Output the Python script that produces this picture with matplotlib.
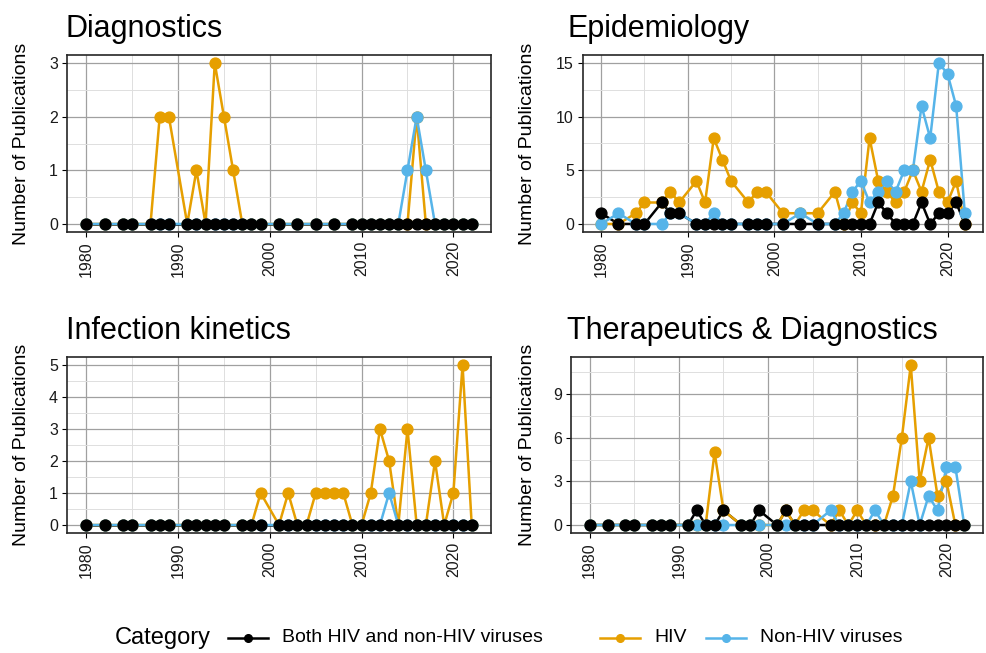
import matplotlib
matplotlib.use('Agg')
import matplotlib.pyplot as plt
from matplotlib.lines import Line2D
from matplotlib.ticker import MultipleLocator

plt.rcParams['font.family'] = ['Liberation Sans', 'DejaVu Sans']

# colours for the three categories
c_both = '#000000'
c_hiv = '#E69F00'
c_non = '#56B4E9'

# Diagnostics
diag_years = [1980, 1982, 1984, 1985, 1987, 1988, 1989,
              1991, 1992, 1993, 1994, 1995, 1996, 1997, 1998, 1999,
              2001, 2003, 2005, 2007,
              2009, 2010, 2011, 2012, 2013, 2014, 2015, 2016, 2017, 2018, 2019, 2020, 2021, 2022]
diag_both = [0] * 34
diag_hiv = [0, 0, 0, 0, 0, 2, 2,
            0, 1, 0, 3, 2, 1, 0, 0, 0,
            0, 0, 0, 0,
            0, 0, 0, 0, 0, 0, 0, 2, 0, 0, 0, 0, 0, 0]
diag_non = [0, 0, 0, 0, 0, 0, 0,
            0, 0, 0, 0, 0, 0, 0, 0, 0,
            0, 0, 0, 0,
            0, 0, 0, 0, 0, 0, 1, 2, 1, 0, 0, 0, 0, 0]

# Epidemiology
epi_years = [1980, 1982, 1984, 1985, 1987, 1988, 1989,
             1991, 1992, 1993, 1994, 1995, 1997, 1998, 1999,
             2001, 2003, 2005, 2007, 2008,
             2009, 2010, 2011, 2012, 2013, 2014, 2015, 2016, 2017, 2018, 2019, 2020, 2021, 2022]
epi_both = [1, 0, 0, 0, 2, 1, 1,
            0, 0, 0, 0, 0, 0, 0, 0,
            0, 0, 0, 0, 0,
            0, 0, 0, 2, 1, 0, 0, 0, 2, 0, 1, 1, 2, 0]
epi_hiv = [0, 0, 1, 2, 2, 3, 2,
           4, 2, 8, 6, 4, 2, 3, 3,
           1, 1, 1, 3, 0,
           2, 1, 8, 4, 3, 2, 3, 5, 3, 6, 3, 2, 4, 0]
epi_non = [0, 1, 0, 0, 0, 1, 1,
           0, 0, 1, 0, 0, 0, 0, 0,
           0, 1, 0, 0, 1,
           3, 4, 2, 3, 4, 3, 5, 5, 11, 8, 15, 14, 11, 1]

# Infection kinetics
kin_years = [1980, 1982, 1984, 1985, 1987, 1988, 1989,
             1991, 1992, 1993, 1994, 1995, 1997, 1998, 1999,
             2001, 2002, 2003, 2004, 2005, 2006, 2007, 2008, 2009, 2010, 2011,
             2012, 2013, 2014, 2015, 2016, 2017, 2018, 2019, 2020, 2021, 2022]
kin_both = [0] * 37
kin_hiv = [0, 0, 0, 0, 0, 0, 0,
           0, 0, 0, 0, 0, 0, 0, 1,
           0, 1, 0, 0, 1, 1, 1, 1, 0, 0, 1,
           3, 2, 0, 3, 0, 0, 2, 0, 1, 5, 0]
kin_non = [0, 0, 0, 0, 0, 0, 0,
           0, 0, 0, 0, 0, 0, 0, 0,
           0, 0, 0, 0, 0, 0, 0, 0, 0, 0, 0,
           0, 1, 0, 0, 0, 0, 0, 0, 0, 0, 0]

# Therapeutics & Diagnostics
ther_years = [1980, 1982, 1984, 1985, 1987, 1988, 1989,
              1991, 1992, 1993, 1994, 1995, 1997, 1998, 1999,
              2001, 2002, 2003, 2004, 2005,
              2007, 2008, 2009, 2010, 2011, 2012, 2013, 2014, 2015, 2016, 2017, 2018,
              2019, 2020, 2021, 2022]
ther_both = [0, 0, 0, 0, 0, 0, 0,
             0, 1, 0, 0, 1, 0, 0, 1,
             0, 1, 0, 0, 0,
             0, 0, 0, 0, 0, 0, 0, 0, 0, 0, 0, 0,
             0, 0, 0, 0]
ther_hiv = [0, 0, 0, 0, 0, 0, 0,
            0, 0, 0, 5, 1, 0, 0, 0,
            0, 1, 0, 1, 1,
            0, 1, 0, 1, 0, 0, 0, 2, 6, 11, 3, 6,
            2, 3, 0, 0]
ther_non = [0, 0, 0, 0, 0, 0, 0,
            0, 0, 0, 0, 0, 0, 0, 0,
            0, 0, 0, 0, 0,
            1, 0, 0, 0, 0, 1, 0, 0, 0, 3, 0, 2,
            1, 4, 4, 0]

W, H = 986, 653
fig = plt.figure(figsize=(W / 100, H / 100), dpi=100)


def px_rect(left, top, right, bottom):
    return [left / W, 1 - bottom / H, (right - left) / W, (bottom - top) / H]


def panel(rect, title, years, both, hiv, non, ymax, ystep, title_x, ylab_x):
    ax = fig.add_axes(px_rect(*rect))
    # lines first, then points on top (like geom_line + geom_point)
    ax.plot(years, both, color=c_both, lw=1.8, zorder=3)
    ax.plot(years, hiv, color=c_hiv, lw=1.8, zorder=4)
    ax.plot(years, non, color=c_non, lw=1.8, zorder=5)
    ax.plot(years, hiv, 'o', color=c_hiv, ms=7.8, zorder=6)
    ax.plot(years, non, 'o', color=c_non, ms=7.8, zorder=7)
    ax.plot(years, both, 'o', color=c_both, ms=7.8, zorder=8)

    ax.set_xlim(1977.9, 2024.1)
    ax.set_ylim(-0.05 * ymax, 1.05 * ymax)
    ax.set_xticks([1980, 1990, 2000, 2010, 2020])
    ax.xaxis.set_minor_locator(MultipleLocator(5))
    ax.yaxis.set_major_locator(MultipleLocator(ystep))
    ax.yaxis.set_minor_locator(MultipleLocator(ystep / 2))
    ax.tick_params(axis='x', labelrotation=90)
    ax.tick_params(which='major', length=3.5, width=0.8, color='black',
                   labelsize=11.5, labelcolor='#1a1a1a', pad=3)
    ax.tick_params(which='minor', length=0)
    ax.grid(which='major', color='#a0a0a0', lw=0.9, zorder=0)
    ax.grid(which='minor', color='#dedede', lw=0.7, zorder=0)
    ax.set_axisbelow(True)
    for s in ax.spines.values():
        s.set_linewidth(1.2)
        s.set_color('#262626')

    top, bottom = rect[1], rect[3]
    fig.text(title_x / W, 1 - (top - 18) / H, title, fontsize=22,
             ha='left', va='baseline')
    fig.text(ylab_x / W, 1 - ((top + bottom) / 2) / H, 'Number of Publications',
             fontsize=14, rotation=90, ha='center', va='center')
    return ax


panel((67, 55, 491, 232), 'Diagnostics', diag_years, diag_both, diag_hiv, diag_non,
      3, 1, 66, 22)
panel((583, 55, 983, 232), 'Epidemiology', epi_years, epi_both, epi_hiv, epi_non,
      15, 5, 567, 527)
panel((67, 357, 491, 533), 'Infection kinetics', kin_years, kin_both, kin_hiv, kin_non,
      5, 1, 66, 22)
panel((571, 357, 983, 533), 'Therapeutics & Diagnostics', ther_years, ther_both,
      ther_hiv, ther_non, 11, 3, 567, 527)

# legend along the bottom, keys placed one by one like the ggplot guide
leg_y = 1 - 638 / H
fig.text(115 / W, leg_y, 'Category', fontsize=17, ha='left', va='center')
leg_labels = ['Both HIV and non-HIV viruses', 'HIV', 'Non-HIV viruses']
leg_colors = [c_both, c_hiv, c_non]
leg_x = [228, 600, 706]
for x0, lab, col in zip(leg_x, leg_labels, leg_colors):
    fig.add_artist(Line2D([x0 / W, (x0 + 40) / W], [leg_y, leg_y], color=col, lw=1.8,
                          transform=fig.transFigure))
    fig.add_artist(Line2D([(x0 + 20) / W], [leg_y], color=col, marker='o', ms=5.5,
                          transform=fig.transFigure))
    fig.text((x0 + 54) / W, leg_y, lab, fontsize=14, ha='left', va='center')

fig.savefig('out.png', dpi=100)
